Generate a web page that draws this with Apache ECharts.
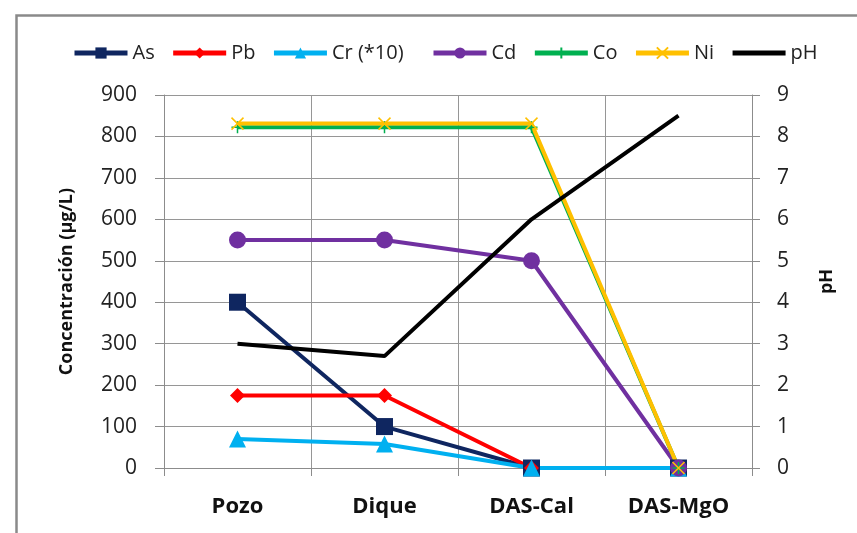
<!DOCTYPE html>
<html><head><meta charset="utf-8">
<script src="https://cdn.jsdelivr.net/npm/echarts@6/dist/echarts.min.js"></script>
<style>html,body{margin:0;padding:0;background:#fff}#c{width:857px;height:533px}</style>
</head><body><div id="c"></div>
<script>
var categories = ['Pozo', 'Dique', 'DAS-Cal', 'DAS-MgO'];
var asVals = [400, 100, 0, 0];
var pbVals = [175, 175, 0, 0];
var crVals = [70, 58, 0, 0];
var cdVals = [550, 550, 500, 0];
var coVals = [822, 822, 822, 0];
var niVals = [831, 831, 831, 0];
var phVals = [3.0, 2.7, 6.0, 8.5];
var leftTicks = [0, 900, 100];
var rightTicks = [0, 9, 1];
var legendNamesA = ['As', 'Pb', 'Cr (*10)'];
var legendNamesB = ['Cd', 'Co', 'Ni', 'pH'];

var FONT = '"Open Sans", sans-serif';
var plus = 'path://M0,-10L0,10M-10,0L10,0';
var cross = 'path://M-10,-10L10,10M-10,10L10,-10';

function line(name, data, color, symbol, size, extra) {
  var s = {
    name: name, type: 'line', data: data, yAxisIndex: 0,
    symbol: symbol, symbolSize: size, showSymbol: symbol !== 'none',
    lineStyle: { color: color, width: 4 },
    itemStyle: { color: color },
    emphasis: { disabled: true },
    animation: false
  };
  if (extra) for (var k in extra) s[k] = extra[k];
  return s;
}

function legendData(names) {
  return names.map(function (n) {
    var d = { name: n };
    if (n === 'pH') d.itemStyle = { opacity: 0 };
    return d;
  });
}
function legend(left, names) {
  return {
    left: left, top: 38, itemWidth: 53, itemHeight: 14, itemGap: 16,
    lineStyle: { width: 5 },
    textStyle: { fontFamily: FONT, fontSize: 20, color: '#222' },
    data: legendData(names)
  };
}

var chart = echarts.init(document.getElementById('c'), null, { renderer: 'canvas' });
chart.setOption({
  backgroundColor: '#fff',
  animation: false,
  graphic: [{
    type: 'rect', left: 14, top: 13, silent: true,
    shape: { width: 860, height: 540 },
    style: { fill: 'none', stroke: '#8a8a8a', lineWidth: 2.5 }
  }],
  legend: [legend(67, legendNamesA), legend(426, legendNamesB)],
  grid: { left: 164, right: 105, top: 95, bottom: 65 },
  xAxis: {
    type: 'category', data: categories, boundaryGap: true,
    axisLine: { lineStyle: { color: '#8c8c8c', width: 1 } },
    axisTick: { show: true, length: 8, lineStyle: { color: '#8c8c8c' } },
    splitLine: { show: true, lineStyle: { color: '#969696', width: 1 } },
    axisLabel: { margin: 28, fontFamily: FONT, fontSize: 22, fontWeight: 'bold', color: '#111' }
  },
  yAxis: [{
    type: 'value', min: leftTicks[0], max: leftTicks[1], interval: leftTicks[2],
    name: 'Concentración (µg/L)', nameLocation: 'middle', nameGap: 88, nameRotate: 90,
    nameTextStyle: { fontFamily: FONT, fontSize: 18, fontWeight: 'bold', color: '#111' },
    axisLine: { show: true, lineStyle: { color: '#8c8c8c', width: 1 } },
    axisTick: { show: true, length: 9, lineStyle: { color: '#8c8c8c' } },
    splitLine: { show: true, lineStyle: { color: '#969696', width: 1 } },
    axisLabel: { margin: 27, fontFamily: FONT, fontSize: 21, color: '#222' }
  }, {
    type: 'value', min: rightTicks[0], max: rightTicks[1], interval: rightTicks[2],
    name: 'pH', nameLocation: 'middle', nameGap: 66, nameRotate: 90,
    nameTextStyle: { fontFamily: FONT, fontSize: 18, fontWeight: 'bold', color: '#111' },
    axisLine: { show: true, lineStyle: { color: '#8c8c8c', width: 1 } },
    axisTick: { show: true, length: 8, lineStyle: { color: '#8c8c8c' } },
    splitLine: { show: false },
    axisLabel: { margin: 25, fontFamily: FONT, fontSize: 21, color: '#222' }
  }],
  series: [
    line('As', asVals, '#0f2660', 'rect', 17),
    line('Pb', pbVals, '#ff0000', 'diamond', 15),
    line('Cr (*10)', crVals, '#00b0f0', 'triangle', 17),
    line('Cd', cdVals, '#7030a0', 'circle', 17),
    line('Co', coVals, '#00b050', plus, 12, { itemStyle: { color: '#00b050', borderColor: '#00b050', borderWidth: 1.5 } }),
    line('Ni', niVals, '#ffc000', cross, 12, { itemStyle: { color: '#ffc000', borderColor: '#ffc000', borderWidth: 1.5 } }),
    line('pH', phVals, '#000000', 'none', 0, { yAxisIndex: 1 })
  ]
});
</script></body></html>
